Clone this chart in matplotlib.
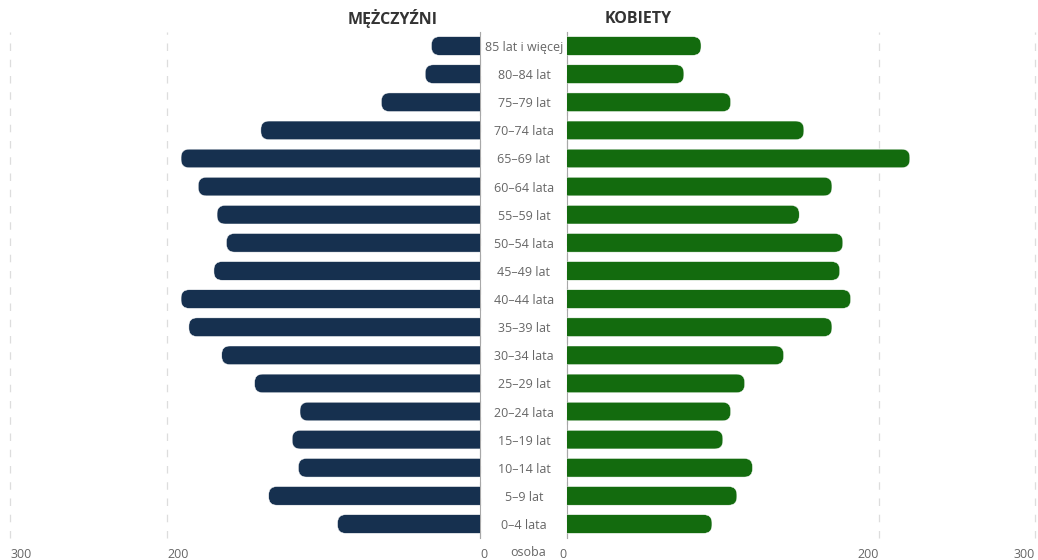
import matplotlib.pyplot as plt
from matplotlib.patches import FancyBboxPatch

plt.rcParams['font.family'] = ['Open Sans', 'DejaVu Sans']

# age groups, top to bottom
groups = ['85 lat i więcej', '80–84 lat', '75–79 lat', '70–74 lata', '65–69 lat',
          '60–64 lata', '55–59 lat', '50–54 lata', '45–49 lat', '40–44 lata',
          '35–39 lat', '30–34 lata', '25–29 lat', '20–24 lata', '15–19 lat',
          '10–14 lat', '5–9 lat', '0–4 lata']
men = [31, 35, 63, 140, 191, 180, 168, 162, 170, 191, 186, 165, 144, 115, 120, 116, 135, 91]
women = [86, 75, 105, 152, 220, 170, 149, 177, 175, 182, 170, 139, 114, 105, 100, 119, 109, 93]
ticks_l = [300, 200, 0]
ticks_r = [0, 200, 300]

navy = '#16304f'
green = '#136b0e'
grid_c = '#dddddd'
axis_c = '#a8a8a8'
text_c = '#666666'

fig = plt.figure(figsize=(10.38, 5.6), dpi=100)
ax_l = fig.add_axes([10.5 / 1038, 0.03918, 469.5 / 1038, 0.9038])
ax_r = fig.add_axes([567 / 1038, 0.03918, 467.5 / 1038, 0.9038])

ypos = list(range(len(groups)))[::-1]


def rounded(ax, bars, color, px_per_unit):
    # swap plain bars for ones with a rounded outer end
    r = 8 / px_per_unit
    aspect = (8 / 28.12) / r
    for b in bars:
        x, y, w, h = b.get_x(), b.get_y(), b.get_width(), b.get_height()
        b.set_visible(False)
        p = FancyBboxPatch((x - 10, y), w + 10, h,
                           boxstyle=f'round,pad=0,rounding_size={r}',
                           mutation_aspect=aspect, facecolor=color,
                           edgecolor='#ffffff', linewidth=0.3, zorder=3)
        ax.add_patch(p)


bl = ax_l.barh(ypos, men, height=0.66, color=navy)
rounded(ax_l, bl, navy, 1.565)
br = ax_r.barh(ypos, women, height=0.66, color=green)
rounded(ax_r, br, green, 1.557)

ax_l.set_xlim(300, 0)
ax_r.set_xlim(0, 300)
for ax in (ax_l, ax_r):
    ax.set_ylim(-0.5, len(groups) - 0.5)
    for s in ax.spines.values():
        s.set_visible(False)
    ax.tick_params(axis='x', length=0, labelsize=9, labelcolor=text_c, pad=7)
    ax.tick_params(axis='y', length=0)
    ax.grid(axis='x', color=grid_c, linestyle=(0, (6, 7)), linewidth=0.9)
    ax.set_axisbelow(True)
    ax.set_facecolor('none')

ax_l.set_xticks(ticks_l)
ax_l.set_xticklabels([str(t) for t in ticks_l], ha='left')
ax_r.set_xticks(ticks_r)
ax_r.set_xticklabels([str(t) for t in ticks_r], ha='right')
ax_l.set_yticks([])

# keep the outer gridlines whole at the axes edge
for ax in (ax_l, ax_r):
    for g in ax.get_xgridlines():
        g.set_clip_on(False)

ax_l.spines['right'].set_visible(True)
ax_l.spines['right'].set_color(axis_c)
ax_r.spines['left'].set_visible(True)
ax_r.spines['left'].set_color(axis_c)

ax_r.set_yticks(ypos)
ax_r.set_yticklabels(groups, ha='center', fontsize=9, color=text_c)
ax_r.tick_params(axis='y', pad=31)

fig.text(438 / 1038, 1 - 19 / 560, 'MĘŻCZYŹNI', ha='right', va='center',
         fontsize=11.5, fontweight='bold', color='#333333')
fig.text(605 / 1038, 1 - 19 / 560, 'KOBIETY', ha='left', va='center',
         fontsize=11.5, fontweight='bold', color='#333333')
fig.text(528 / 1038, 1 - 552 / 560, 'osoba', ha='center', va='center',
         fontsize=9, color=text_c)

fig.savefig('out.png', dpi=100, facecolor='white')
